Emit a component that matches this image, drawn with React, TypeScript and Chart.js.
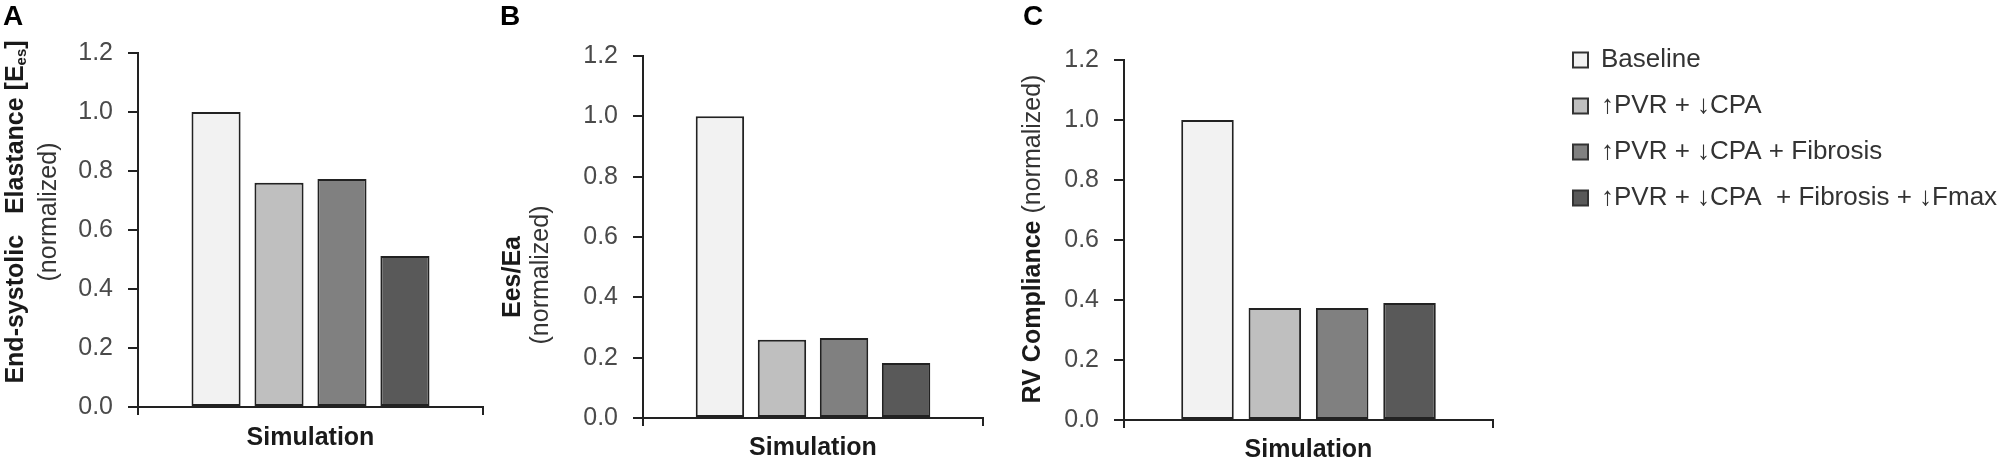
import React, { useEffect, useRef } from 'react';
import { Chart, registerables } from 'chart.js';

Chart.register(...registerables);

// ---------- data ----------
const CATEGORIES = [''];
const X_TITLE = 'Simulation';
const SERIES_LABELS = [
  'Baseline',
  '↑PVR + ↓CPA',
  '↑PVR + ↓CPA + Fibrosis',
  '↑PVR + ↓CPA  + Fibrosis + ↓Fmax',
];
const SERIES_COLORS = ['#f2f2f2', '#bfbfbf', '#808080', '#595959'];
const PANEL_A_VALUES = [1.0, 0.76, 0.773, 0.512];
const PANEL_B_VALUES = [1.0, 0.259, 0.265, 0.182];
const PANEL_C_VALUES = [1.0, 0.373, 0.373, 0.39];
const Y_TICKS = [0, 0.2, 0.4, 0.6, 0.8, 1.0, 1.2];
const Y_MIN = 0;
const Y_MAX = 1.2;

const FAMILY = '"Liberation Sans", Arial, sans-serif';
const H = 464;

type Part = { text: string; bold?: boolean; sub?: boolean; color?: string };
type Line = { x: number; y: number; parts: Part[] };

const panelTextPlugin = {
  id: 'panelText',
  afterDraw(chart: any, _args: any, opts: any) {
    const ctx = chart.ctx as CanvasRenderingContext2D;
    ctx.save();
    if (opts.letter) {
      ctx.font = `bold 28px ${FAMILY}`;
      ctx.fillStyle = '#000';
      ctx.textAlign = 'left';
      ctx.textBaseline = 'alphabetic';
      ctx.fillText(opts.letter.text, opts.letter.x, opts.letter.y);
    }
    const fontFor = (p: Part) => `${p.bold ? 'bold ' : ''}${p.sub ? 15 : 25}px ${FAMILY}`;
    (opts.lines || []).forEach((line: Line) => {
      ctx.save();
      ctx.translate(line.x, line.y);
      ctx.rotate(-Math.PI / 2);
      ctx.textAlign = 'left';
      ctx.textBaseline = 'middle';
      let total = 0;
      line.parts.forEach((p) => {
        ctx.font = fontFor(p);
        total += ctx.measureText(p.text).width;
      });
      let x = -total / 2;
      line.parts.forEach((p) => {
        ctx.font = fontFor(p);
        ctx.fillStyle = p.color || '#1a1a1a';
        ctx.fillText(p.text, x, p.sub ? 6 : 0);
        x += ctx.measureText(p.text).width;
      });
      ctx.restore();
    });
    ctx.restore();
  },
};

type PanelLayout = {
  padTop: number;
  padRight: number;
  yWidth: number;
  xHeight: number;
  titlePadBottom: number;
  letter: { text: string; x: number; y: number };
  lines: Line[];
};

function panelConfig(values: number[], L: PanelLayout): any {
  return {
    type: 'bar',
    data: {
      labels: CATEGORIES,
      datasets: values.map((v, i) => ({
        label: SERIES_LABELS[i],
        data: [v],
        backgroundColor: SERIES_COLORS[i],
        borderColor: '#222',
        borderWidth: 2,
        borderSkipped: false,
        categoryPercentage: 0.73,
        barPercentage: 0.78,
      })),
    },
    options: {
      responsive: false,
      animation: false,
      events: [],
      layout: { padding: { left: 0, right: L.padRight, top: L.padTop, bottom: 0 } },
      plugins: {
        legend: { display: false },
        tooltip: { enabled: false },
        panelText: { letter: L.letter, lines: L.lines },
      },
      scales: {
        x: {
          type: 'category',
          offset: true,
          grid: {
            display: true,
            offset: true,
            drawOnChartArea: false,
            drawTicks: true,
            tickLength: 8,
            color: '#222',
            lineWidth: 2,
          },
          border: { display: true, color: '#222', width: 2 },
          ticks: { display: false },
          title: {
            display: true,
            text: X_TITLE,
            color: '#1a1a1a',
            font: { family: FAMILY, size: 25, weight: 'bold', lineHeight: 1 },
            padding: { top: 0, bottom: L.titlePadBottom },
          },
          afterFit: (s: any) => {
            s.height = L.xHeight;
          },
        },
        y: {
          min: Y_MIN,
          max: Y_MAX,
          afterBuildTicks: (s: any) => {
            s.ticks = Y_TICKS.map((v) => ({ value: v }));
          },
          ticks: {
            callback: (v: any) => Number(v).toFixed(1),
            color: '#4a4a4a',
            font: { family: FAMILY, size: 25 },
            padding: 15,
          },
          grid: {
            drawOnChartArea: false,
            drawTicks: true,
            tickLength: 10,
            color: '#222',
            lineWidth: 2,
          },
          border: { display: true, color: '#222', width: 2 },
          afterFit: (s: any) => {
            s.width = L.yWidth;
          },
        },
      },
    },
    plugins: [panelTextPlugin],
  };
}

function legendConfig(): any {
  return {
    type: 'bar',
    data: {
      labels: CATEGORIES,
      datasets: SERIES_LABELS.map((label, i) => ({
        label,
        data: [],
        backgroundColor: SERIES_COLORS[i],
        borderColor: '#333',
        borderWidth: 2,
      })),
    },
    options: {
      responsive: false,
      animation: false,
      events: [],
      layout: { padding: { left: 0, top: 27, right: 0, bottom: 0 } },
      plugins: {
        tooltip: { enabled: false },
        legend: {
          display: true,
          position: 'left',
          align: 'start',
          maxWidth: 460,
          labels: {
            boxWidth: 15,
            boxHeight: 15,
            padding: 20,
            color: '#333',
            font: { family: FAMILY, size: 26 },
          },
        },
      },
      scales: { x: { display: false }, y: { display: false } },
    },
  };
}

const PANEL_A: PanelLayout = {
  padTop: 53,
  padRight: 17,
  yWidth: 138,
  xHeight: H - 407,
  titlePadBottom: 13.5,
  letter: { text: 'A', x: 3, y: 25 },
  lines: [
    {
      x: 16,
      y: 212,
      parts: [
        { text: 'End-systolic   Elastance [E', bold: true },
        { text: 'es', bold: true, sub: true },
        { text: ']', bold: true },
      ],
    },
    { x: 49, y: 212, parts: [{ text: '(normalized)', color: '#333' }] },
  ],
};

const PANEL_B: PanelLayout = {
  padTop: 56,
  padRight: 17,
  yWidth: 143,
  xHeight: H - 418,
  titlePadBottom: 3.5,
  letter: { text: 'B', x: 0, y: 25 },
  lines: [
    { x: 13, y: 277, parts: [{ text: 'Ees/Ea', bold: true }] },
    { x: 41, y: 275, parts: [{ text: '(normalized)', color: '#333' }] },
  ],
};

const PANEL_C: PanelLayout = {
  padTop: 60,
  padRight: 67,
  yWidth: 124,
  xHeight: H - 420,
  titlePadBottom: 1.5,
  letter: { text: 'C', x: 23, y: 25 },
  lines: [
    {
      x: 33,
      y: 239,
      parts: [
        { text: 'RV Compliance ', bold: true },
        { text: '(normalized)', color: '#333' },
      ],
    },
  ],
};

function ChartCanvas({ left, width, config }: { left: number; width: number; config: () => any }) {
  const ref = useRef<HTMLCanvasElement | null>(null);
  useEffect(() => {
    if (!ref.current) return;
    const chart = new Chart(ref.current, config());
    return () => chart.destroy();
  }, []);
  return (
    <canvas
      ref={ref}
      width={width}
      height={H}
      style={{ position: 'absolute', left, top: 0, width, height: H, display: 'block' }}
    />
  );
}

export default function App() {
  useEffect(() => {
    document.body.style.margin = '0';
    document.body.style.background = '#fff';
  }, []);
  return (
    <div style={{ position: 'relative', width: 2000, height: H, background: '#fff', overflow: 'hidden' }}>
      <ChartCanvas left={0} width={500} config={() => panelConfig(PANEL_A_VALUES, PANEL_A)} />
      <ChartCanvas left={500} width={500} config={() => panelConfig(PANEL_B_VALUES, PANEL_B)} />
      <ChartCanvas left={1000} width={560} config={() => panelConfig(PANEL_C_VALUES, PANEL_C)} />
      <ChartCanvas left={1553} width={447} config={legendConfig} />
    </div>
  );
}
